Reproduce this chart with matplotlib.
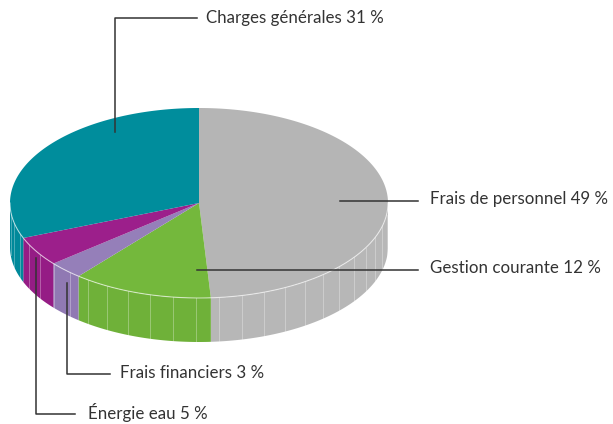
import numpy as np
import matplotlib.pyplot as plt
from matplotlib.patches import Polygon

# Slice data, clockwise from 12 o'clock
labels = ["Frais de personnel 49 %", "Gestion courante 12 %", "Frais financiers 3 %",
          "Énergie eau 5 %", "Charges générales 31 %"]
shares = [49, 12, 3, 5, 31]
top_colors = ["#b5b5b5", "#74b83c", "#957fb9", "#9c1f8b", "#008d9c"]
side_colors = ["#b7b7b7", "#6fb139", "#9079b3", "#951c85", "#00899a"]

# ellipse geometry, in pixels
cx, cy, rx, ry, depth = 199, 203, 189, 95, 44

fig = plt.figure(figsize=(6.13, 4.24), dpi=100)
ax = fig.add_axes([0, 0, 1, 1])
ax.set_xlim(0, 613)
ax.set_ylim(424, 0)
ax.axis('off')

def pt(a):
    return cx + rx * np.cos(np.radians(a)), cy - ry * np.sin(np.radians(a))

# start/end angles going clockwise from 90 deg
bounds = []
start = 90.0
for s in shares:
    end = start - s * 3.6
    bounds.append((start, end))
    start = end

# side faces (front half only, angles between -180 and 0)
for (a0, a1), col in zip(bounds, side_colors):
    lo, hi = min(a0, a1), max(a0, a1)
    for shift in (0, -360, 360):
        l, h = max(lo + shift, -180), min(hi + shift, 0)
        if h <= l:
            continue
        aa = np.linspace(l, h, 80)
        xs, ys = pt(aa)
        poly = list(zip(xs, ys)) + list(zip(xs[::-1], ys[::-1] + depth))
        ax.add_patch(Polygon(poly, closed=True, fc=col, ec='none', zorder=1))
        # faint facet lines
        for a in np.arange(np.ceil(l / 7) * 7, h, 7):
            x, y = pt(a)
            ax.plot([x, x], [y, y + depth], color='white', lw=0.6, alpha=0.35, zorder=2)

# top faces
for (a0, a1), col in zip(bounds, top_colors):
    aa = np.linspace(a0, a1, 200)
    xs, ys = pt(aa)
    poly = [(cx, cy)] + list(zip(xs, ys))
    ax.add_patch(Polygon(poly, closed=True, fc=col, ec='none', zorder=3))

# light rim along the front edge
aa = np.linspace(-180, 0, 200)
xs, ys = pt(aa)
ax.plot(xs, ys, color='white', lw=0.8, alpha=0.6, zorder=4)

# leader lines and labels
lc, tc = '#333333', '#333333'
fs = 12.2
kw = dict(color=lc, lw=1.1, zorder=5)
tkw = dict(fontsize=fs, color=tc, va='center', ha='left', family='Lato')
ax.plot([115, 115, 197], [132, 18, 18], **kw)
ax.text(206, 18, labels[4], **tkw)
ax.plot([340, 418], [201, 201], **kw)
ax.text(430, 199, labels[0], **tkw)
ax.plot([197, 418], [270, 270], **kw)
ax.text(430, 268, labels[1], **tkw)
ax.plot([67, 67, 110], [283, 374, 374], **kw)
ax.text(120, 373, labels[2], **tkw)
ax.plot([36, 36, 75], [258, 414, 414], **kw)
ax.text(88, 412, labels[3], **tkw)

fig.savefig('out.png', dpi=100)
